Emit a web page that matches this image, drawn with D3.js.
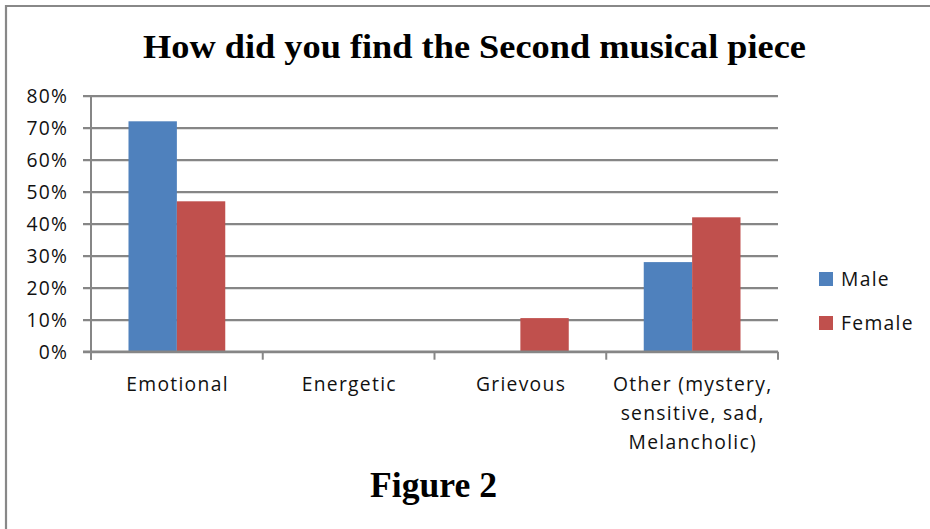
<!DOCTYPE html>
<html>
<head>
<meta charset="utf-8">
<script src="https://cdn.jsdelivr.net/npm/d3@7"></script>
<style>
  html, body { margin: 0; padding: 0; background: #fff; }
  svg { display: block; }
</style>
</head>
<body>
<div id="chart"></div>
<script>
// Survey answers: how the second musical piece was perceived, by gender
const categories = ["Emotional", "Energetic", "Grievous", "Other (mystery, sensitive, sad, Melancholic)"];
const seriesNames = ["Male", "Female"];
const maleValues = [0.72, 0, 0, 0.28];
const femaleValues = [0.47, 0, 0.105, 0.42];
const yTicks = [0, 0.1, 0.2, 0.3, 0.4, 0.5, 0.6, 0.7, 0.8];
const colors = ["#4F81BD", "#C0504D"];
const chartTitle = "How did you find the Second musical piece";
const figureCaption = "Figure 2";

const W = 930, H = 529;
const plot = { left: 91, right: 778, top: 95.7, bottom: 351.7 };
const labelFont = "'Open Sans', Lato, sans-serif";
const labelSize = 19.3;
const labelSpacing = 1.3;

const svg = d3.select("#chart").append("svg")
  .attr("width", W).attr("height", H);

// frame around the chart area (left and top edges visible)
svg.append("path")
  .attr("d", `M6,${H} V6 H${W}`)
  .attr("fill", "none").attr("stroke", "#888").attr("stroke-width", 2.2);

// title
svg.append("text")
  .attr("x", 474.5).attr("y", 58)
  .attr("text-anchor", "middle")
  .attr("font-family", "'Liberation Serif', 'Times New Roman', serif")
  .attr("font-weight", "bold").attr("font-size", 34)
  .attr("textLength", 663).attr("lengthAdjust", "spacingAndGlyphs")
  .text(chartTitle);

const x = d3.scaleBand().domain(categories).range([plot.left, plot.right]).padding(0);
const xs = d3.scaleBand().domain(seriesNames).range([0, x.bandwidth()]).paddingInner(0).paddingOuter(0.775);
const y = d3.scaleLinear().domain([0, 0.8]).range([plot.bottom, plot.top]);

// horizontal gridlines with outside tick stubs, percent labels
const yAxis = d3.axisLeft(y).tickValues(yTicks).tickFormat(d3.format(".0%"));
const gy = svg.append("g").attr("transform", `translate(${plot.left - 8},0)`).call(yAxis);
gy.select(".domain").remove();
gy.selectAll(".tick line").attr("stroke", "#868686").attr("stroke-width", 2.2)
  .attr("x1", 0).attr("x2", plot.right - plot.left + 8);
gy.selectAll(".tick text")
  .attr("font-family", labelFont).attr("font-size", labelSize).attr("fill", "#111")
  .attr("letter-spacing", labelSpacing)
  .attr("x", 67 - (plot.left - 8) + labelSpacing).attr("dy", "0.35em");

// vertical value axis line
svg.append("line")
  .attr("x1", plot.left).attr("x2", plot.left)
  .attr("y1", plot.top).attr("y2", plot.bottom + 8)
  .attr("stroke", "#868686").attr("stroke-width", 2);

// bars
const rows = categories.map((c, i) => ({ cat: c, vals: [maleValues[i], femaleValues[i]] }));
const groups = svg.append("g").selectAll("g").data(rows).join("g")
  .attr("transform", d => `translate(${x(d.cat)},0)`);
groups.selectAll("rect")
  .data(d => d.vals.map((v, j) => ({ name: seriesNames[j], v, j })))
  .join("rect")
  .attr("x", d => xs(d.name))
  .attr("width", xs.bandwidth())
  .attr("y", d => y(d.v))
  .attr("height", d => y(0) - y(d.v))
  .attr("fill", d => colors[d.j]);

// category axis baseline and tick marks between categories
svg.append("line")
  .attr("x1", plot.left - 8).attr("x2", plot.right)
  .attr("y1", plot.bottom).attr("y2", plot.bottom)
  .attr("stroke", "#868686").attr("stroke-width", 2.2);
const boundaries = categories.map(c => x(c)).concat([x(categories[categories.length - 1]) + x.bandwidth()]);
svg.append("g").selectAll("line").data(boundaries).join("line")
  .attr("x1", d => d).attr("x2", d => d)
  .attr("y1", plot.bottom).attr("y2", plot.bottom + 8)
  .attr("stroke", "#868686").attr("stroke-width", 2);

// wrapped category labels
const catLabels = svg.append("g");
categories.forEach(c => {
  const cx = x(c) + x.bandwidth() / 2 + labelSpacing / 2;
  const t = catLabels.append("text")
    .attr("x", cx).attr("y", 391)
    .attr("text-anchor", "middle")
    .attr("font-family", labelFont).attr("font-size", labelSize).attr("fill", "#111")
    .attr("letter-spacing", labelSpacing);
  const words = c.split(" ");
  let line = [];
  let tspan = t.append("tspan").attr("x", cx).attr("dy", 0);
  words.forEach(w => {
    line.push(w);
    tspan.text(line.join(" "));
    if (tspan.node().getComputedTextLength() > x.bandwidth() - 2 && line.length > 1) {
      line.pop();
      tspan.text(line.join(" "));
      line = [w];
      tspan = t.append("tspan").attr("x", cx).attr("dy", 29).text(w);
    }
  });
});

// legend
const legend = svg.append("g").selectAll("g").data(seriesNames).join("g")
  .attr("transform", (d, i) => `translate(819,${272 + i * 44})`);
legend.append("rect").attr("width", 14).attr("height", 14).attr("fill", (d, i) => colors[i]);
legend.append("text").attr("x", 22).attr("y", 14)
  .attr("font-family", labelFont).attr("font-size", labelSize).attr("fill", "#111")
  .attr("letter-spacing", labelSpacing)
  .text(d => d);

// caption
svg.append("text")
  .attr("x", 433.5).attr("y", 497)
  .attr("text-anchor", "middle")
  .attr("font-family", "'Liberation Serif', 'Times New Roman', serif")
  .attr("font-weight", "bold").attr("font-size", 36)
  .attr("textLength", 127).attr("lengthAdjust", "spacingAndGlyphs")
  .text(figureCaption);
</script>
</body>
</html>
